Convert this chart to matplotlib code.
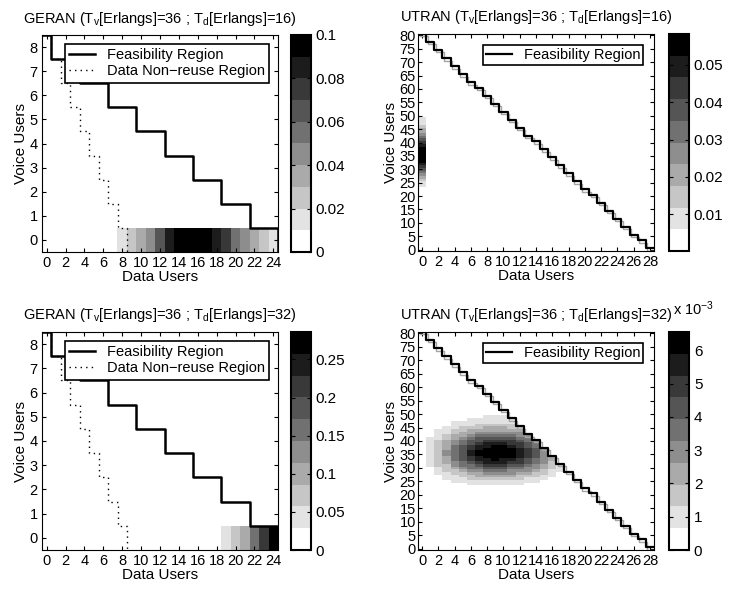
import numpy as np
import matplotlib
matplotlib.use('Agg')
import matplotlib.pyplot as plt
from matplotlib.colors import ListedColormap

plt.rcParams['font.family'] = ['Liberation Sans', 'DejaVu Sans']
plt.rcParams['mathtext.default'] = 'regular'
plt.rcParams['font.size'] = 10

# ---- GERAN data (voice users 0..8, data users 0..24) ----
geran_feas_max_data = [24, 21, 18, 15, 12, 9, 6, 3, 0]       # per voice users 0..8
geran_nonreuse_max_data = [8, 7, 6, 5, 4, 3, 2, 1, 0]        # per voice users 0..8
# state probabilities for 0 voice users, data users 0..24
geran16_p_v0 = [0, 0, 0, 0, 0, 0, 0, 0, 0.012, 0.024, 0.035, 0.048, 0.066, 0.082,
                0.093, 0.099, 0.099, 0.093, 0.083, 0.072, 0.057, 0.044, 0.035, 0.024, 0.015]
geran32_p_v0 = [0, 0, 0, 0, 0, 0, 0, 0, 0, 0, 0, 0, 0, 0, 0, 0, 0, 0, 0,
                0.040, 0.070, 0.100, 0.155, 0.210, 0.286]

# ---- UTRAN data (voice users 0..80, data users 0..28) ----
utran_feas_max_voice = [80, 77, 74, 71, 68, 65, 62, 60, 57, 54, 51, 48, 45, 42, 40,
                        37, 34, 31, 28, 25, 22, 20, 17, 14, 11, 8, 5, 3, 0]  # per data users 0..28
# Td=16: probabilities for 0 data users, voice users 24..49
utran16_p_d0 = [0.0074, 0.0106, 0.0147, 0.0196, 0.0251, 0.0313, 0.0375, 0.0435, 0.0490,
                0.0534, 0.0566, 0.0582, 0.0582, 0.0566, 0.0537, 0.0495, 0.0446, 0.0391,
                0.0335, 0.0281, 0.0230, 0.0184, 0.0144, 0.0110, 0.0083, 0.0061]
# Td=32: grey level (0..9) read per cell, rows voice 50 down to 24, cols data 0..17
utran32_levels = [
    "000000000000000000",  # 50
    "000000001110000000",  # 49
    "000000111111000000",  # 48
    "000011111111000000",  # 47
    "000011122222000000",  # 46
    "000112223332200000",  # 45
    "001122333333300000",  # 44
    "001123344444400000",  # 43
    "001233455555440000",  # 42
    "011234566666550000",  # 41
    "012345667777654000",  # 40
    "012345678887765000",  # 39
    "012356788998765000",  # 38
    "012356789999876400",  # 37
    "012456899999876400",  # 36
    "012456899999876400",  # 35
    "012356789999876430",  # 34
    "012356788988765430",  # 33
    "012345678887765420",  # 32
    "012245567776654321",  # 31
    "001234556665544321",  # 30
    "001223445554443211",  # 29
    "001122334444332210",  # 28
    "000112233333222110",  # 27
    "000111222222211100",  # 26
    "000011111111111000",  # 25
    "000000111111100000",  # 24
]
utran32_max = 6.55e-3

cmap = ListedColormap([(g, g, g) for g in np.linspace(1, 0, 10)])

# build matrices
Z_g16 = np.zeros((9, 25)); Z_g16[0, :] = geran16_p_v0
Z_g32 = np.zeros((9, 25)); Z_g32[0, :] = geran32_p_v0
Z_u16 = np.zeros((81, 29)); Z_u16[24:50, 0] = utran16_p_d0
lev = np.array([[int(c) for c in row] for row in utran32_levels])[::-1]
band = utran32_max / 10
Z_u32 = np.zeros((81, 29)); Z_u32[24:51, 0:18] = np.where(lev > 0, (lev + 0.5) * band, 0)


def geran_steps(max_data):
    xs, ys = [], []
    start = -0.5
    for v in range(len(max_data) - 1, -1, -1):
        xs += [start, max_data[v] + 0.5]
        ys += [v + 0.5, v + 0.5]
        start = max_data[v] + 0.5
    xs.append(start); ys.append(-0.5)
    return xs, ys


def utran_steps(max_voice):
    xs, ys = [], []
    for d, v in enumerate(max_voice):
        xs += [d - 0.5, d + 0.5]
        ys += [v + 0.5, v + 0.5]
    return xs, ys


def panel(ax, cax, Z, vmin, vmax, title, cticks, clabels):
    im = ax.imshow(Z, origin='lower', cmap=cmap, vmin=vmin, vmax=vmax, aspect='auto',
                   interpolation='nearest',
                   extent=(-0.5, Z.shape[1] - 0.5, -0.5, Z.shape[0] - 0.5))
    ax.set_title(title, fontsize=10.5, pad=9)
    ax.set_xlabel('Data Users', fontsize=11, labelpad=0)
    ax.set_ylabel('Voice Users', fontsize=11, labelpad=1)
    ax.tick_params(direction='in', top=True, right=True, length=3, labelsize=10.5, pad=3)
    for s in ax.spines.values():
        s.set_linewidth(0.8)
    cb = fig.colorbar(im, cax=cax)
    cb.set_ticks(cticks)
    cb.set_ticklabels(clabels)
    cb.outline.set_linewidth(1.5)
    cax.tick_params(direction='in', left=True, right=True, length=3, labelsize=11)
    return im


fig = plt.figure(figsize=(7.29, 5.91), dpi=100)
W, H = 729, 591
def rect(x0, y0, x1, y1):
    return [x0 / W, 1 - y1 / H, (x1 - x0) / W, (y1 - y0) / H]

ax1 = fig.add_axes(rect(42, 35, 278, 252)); cax1 = fig.add_axes(rect(291, 35, 311, 252))
ax2 = fig.add_axes(rect(418, 34, 654, 251)); cax2 = fig.add_axes(rect(669, 34, 689, 251))
ax3 = fig.add_axes(rect(42, 332, 278, 550)); cax3 = fig.add_axes(rect(291, 332, 311, 550))
ax4 = fig.add_axes(rect(418, 332, 654, 550)); cax4 = fig.add_axes(rect(669, 332, 689, 550))

dot = (0, (1, 3))

for ax, cax, Z, vmax, td, cticks, clabels in [
        (ax1, cax1, Z_g16, 0.1, 16, [0, 0.02, 0.04, 0.06, 0.08, 0.1],
         ['0', '0.02', '0.04', '0.06', '0.08', '0.1']),
        (ax3, cax3, Z_g32, 0.286, 32, [0, 0.05, 0.1, 0.15, 0.2, 0.25],
         ['0', '0.05', '0.1', '0.15', '0.2', '0.25'])]:
    panel(ax, cax, Z, 0, vmax,
          'GERAN (T$_v$[Erlangs]=36 ; T$_d$[Erlangs]=%d)' % td, cticks, clabels)
    fx, fy = geran_steps(geran_feas_max_data)
    nx, ny = geran_steps(geran_nonreuse_max_data)
    ax.plot(fx, fy, color='black', lw=1.8, label='Feasibility Region')
    ax.plot(nx, ny, color='black', lw=1.0, linestyle=dot, label='Data Non\u2212reuse Region')
    ax.set_xlim(-0.5, 24.5); ax.set_ylim(-0.5, 8.5)
    ax.set_xticks(range(0, 25, 2)); ax.set_yticks(range(0, 9))
    leg = ax.legend(loc='upper right', fontsize=10.5, fancybox=False, framealpha=1,
                    edgecolor='black', borderaxespad=0.6, handlelength=1.8,
                    handletextpad=0.8, borderpad=0.3, labelspacing=0.15)
    leg.get_frame().set_linewidth(1.2)

for ax, cax, Z, vmin, vmax, td, cticks, clabels in [
        (ax2, cax2, Z_u16, 0.0002, 0.0582, 16, [0.01, 0.02, 0.03, 0.04, 0.05],
         ['0.01', '0.02', '0.03', '0.04', '0.05']),
        (ax4, cax4, Z_u32, 0, utran32_max, 32, [0, 1e-3, 2e-3, 3e-3, 4e-3, 5e-3, 6e-3],
         ['0', '1', '2', '3', '4', '5', '6'])]:
    panel(ax, cax, Z, vmin, vmax,
          'UTRAN (T$_v$[Erlangs]=36 ; T$_d$[Erlangs]=%d)' % td, cticks, clabels)
    ux, uy = utran_steps(utran_feas_max_voice)
    ax.plot([x + 0.2 for x in ux], [y - 0.9 for y in uy], color='0.65', lw=1.0)
    ax.plot(ux, uy, color='black', lw=1.6, label='Feasibility Region')
    ax.set_xlim(-0.5, 28.5); ax.set_ylim(-0.5, 80.5)
    ax.set_xticks(range(0, 29, 2)); ax.set_yticks(range(0, 81, 5))
    ax.tick_params(axis='y', pad=1.5)
    leg = ax.legend(loc='upper right', fontsize=10.5, fancybox=False, framealpha=1,
                    edgecolor='black', borderaxespad=0.75, handlelength=1.8,
                    handletextpad=0.8, borderpad=0.2)
    leg.get_frame().set_linewidth(1.2)

fig.text(673 / W, 1 - 315 / H, 'x 10$^{-3}$', fontsize=10.5, ha='left', va='baseline')

fig.savefig('out.png', dpi=100)
